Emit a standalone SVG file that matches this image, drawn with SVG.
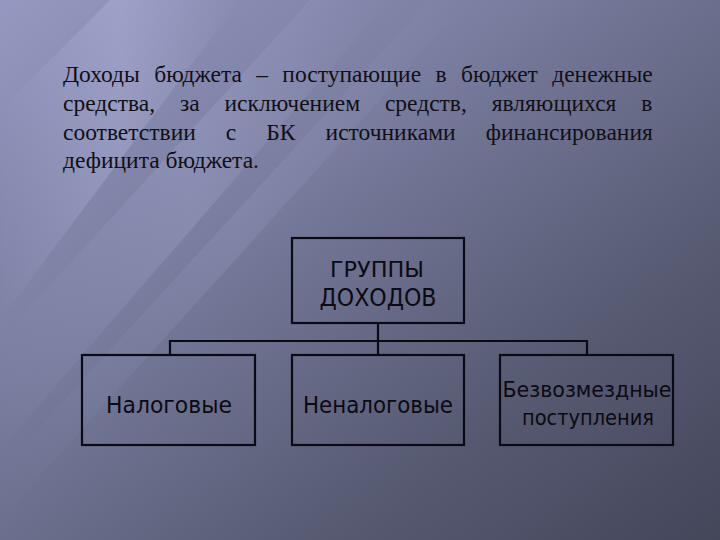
<svg xmlns="http://www.w3.org/2000/svg" width="720" height="540" viewBox="0 0 720 540">
<defs>
<linearGradient id="bg" x1="0" y1="0" x2="1" y2="1">
<stop offset="0" stop-color="#9598c0"/>
<stop offset="0.35" stop-color="#7a7ea0"/>
<stop offset="0.7" stop-color="#585c74"/>
<stop offset="1" stop-color="#44465a"/>
</linearGradient>
<linearGradient id="streak" x1="0" y1="0" x2="1" y2="0">
<stop offset="0" stop-color="#c0c4ec" stop-opacity="0"/>
<stop offset="0.5" stop-color="#c0c4ec" stop-opacity="0.3"/>
<stop offset="1" stop-color="#c0c4ec" stop-opacity="0"/>
</linearGradient>
<style>
.box{fill:none;stroke:#0a0a14;stroke-width:2.2}
.lbl{font-family:"DejaVu Sans Condensed","DejaVu Sans","Liberation Sans",sans-serif;fill:#0a0a12;text-anchor:middle}
.para{font-family:"Liberation Serif","DejaVu Serif",serif;font-size:23.5px;fill:#101014}
.con{fill:none;stroke:#0a0a14;stroke-width:2.2}
</style>
</defs>
<rect width="720" height="540" fill="url(#bg)"/>
<polygon points="0,110 110,0 240,0 0,320" fill="url(#streak)"/>
<polygon points="0,340 310,0 390,0 0,450" fill="url(#streak)" opacity="0.6"/>
<polygon points="0,470 430,0 470,0 0,520" fill="url(#streak)" opacity="0.4"/>

<g id="paragraph">
<text class="para" x="63" y="82" word-spacing="8.5">Доходы бюджета – поступающие в бюджет денежные</text>
<text class="para" x="63" y="111" word-spacing="19">средства, за исключением средств, являющихся в</text>
<text class="para" x="63" y="140" word-spacing="24.2">соответствии с БК источниками финансирования</text>
<text class="para" x="63" y="168">дефицита бюджета.</text>
</g>

<g id="connectors">
<line class="con" x1="378" y1="323" x2="378" y2="355"/>
<polyline class="con" points="170,355 170,341 587,341 587,355"/>
</g>

<g id="groups">
<rect class="box" x="292" y="238" width="172" height="85"/>
<text class="lbl" x="377" y="277" font-size="22" textLength="94" lengthAdjust="spacingAndGlyphs">ГРУППЫ</text>
<text class="lbl" x="378" y="306" font-size="25" textLength="117" lengthAdjust="spacingAndGlyphs">ДОХОДОВ</text>
</g>

<g id="tax">
<rect class="box" x="82" y="355" width="173" height="90"/>
<text class="lbl" x="169" y="413" font-size="23" textLength="126" lengthAdjust="spacingAndGlyphs">Налоговые</text>
</g>

<g id="nontax">
<rect class="box" x="292" y="355" width="172" height="90"/>
<text class="lbl" x="378" y="413" font-size="23" textLength="150" lengthAdjust="spacingAndGlyphs">Неналоговые</text>
</g>

<g id="free">
<rect class="box" x="500" y="355" width="173" height="90"/>
<text class="lbl" x="587" y="397" font-size="21" textLength="169" lengthAdjust="spacingAndGlyphs">Безвозмездные</text>
<text class="lbl" x="588" y="425" font-size="21" textLength="132" lengthAdjust="spacingAndGlyphs">поступления</text>
</g>
</svg>
